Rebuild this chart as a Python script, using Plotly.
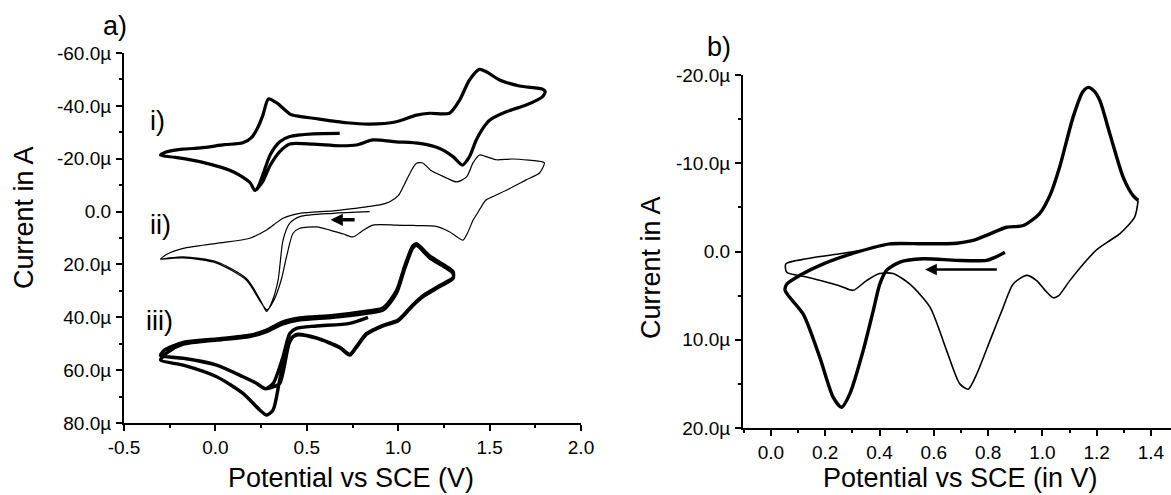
import plotly.graph_objects as go

# ---------------- data (potential in V, current in µA) ----------------
# panel a, curve i)
i_x = [0.68, 0.535, 0.407, 0.352, 0.30, 0.26, 0.235, 0.216, 0.19, 0.10, -0.08, -0.22, -0.30,
       -0.27, -0.18, -0.08, 0.05, 0.15, 0.20, 0.23, 0.26, 0.29, 0.336, 0.41, 0.444, 0.535,
       0.717, 0.844, 0.99, 1.10, 1.172, 1.28, 1.336, 1.39, 1.445, 1.482, 1.555, 1.664, 1.79,
       1.804, 1.79, 1.70, 1.591, 1.50, 1.463, 1.427, 1.39, 1.351, 1.30, 1.227, 1.117, 0.99,
       0.862, 0.772, 0.68, 0.535, 0.407, 0.352, 0.30, 0.26, 0.225]
i_y = [-29.6, -29.4, -28.4, -26.4, -21.5, -14.0, -9.5, -8.0, -10.9, -15.0, -18.8, -20.5, -21.3,
       -22.5, -23.6, -24.1, -25.3, -26.0, -28.2, -31.5, -36.5, -42.6, -41.1, -36.8, -36.2, -35.3,
       -33.6, -33.1, -34.0, -36.5, -37.2, -37.2, -42.2, -49.8, -53.8, -52.9, -49.8, -47.5, -46.3,
       -45.4, -43.5, -40.3, -37.8, -34.6, -31.5, -27.1, -20.8, -17.6, -20.8, -23.9, -25.8, -26.4,
       -27.1, -25.2, -24.9, -25.5, -25.6, -22.7, -17.5, -11.5, -8.3]

# panel a, curve ii)
ii_x = [0.844, 0.644, 0.462, 0.407, 0.37, 0.343, 0.31, 0.28, 0.25, 0.17, 0.0066, -0.176, -0.26,
        -0.30, -0.27, -0.176, 0.0066, 0.188, 0.28, 0.37, 0.462, 0.644, 0.826, 0.90, 0.954, 1.0,
        1.046, 1.08, 1.10, 1.134, 1.18, 1.265, 1.32, 1.374, 1.41, 1.445, 1.48, 1.538, 1.626,
        1.79, 1.80, 1.773, 1.70, 1.626, 1.516, 1.48, 1.43, 1.41, 1.38, 1.354, 1.32, 1.28, 1.2,
        1.1, 0.99, 0.862, 0.80, 0.753, 0.70, 0.626, 0.553, 0.462, 0.425, 0.389, 0.36, 0.32,
        0.283, 0.25, 0.17, 0.0066, -0.176, -0.29]
ii_y = [0.05, 0.66, 1.9, 4.4, 10.8, 25.9, 34.0, 37.8, 34.0, 25.3, 19.0, 17.1, 17.6,
        18.0, 16.3, 13.9, 12.0, 10.1, 7.0, 2.5, 0.66, -0.3, -1.8, -2.5, -3.7, -6.0,
        -12.0, -16.5, -18.3, -18.4, -15.5, -12.7, -11.2, -13.1, -18.5, -21.4, -20.8, -19.6, -19.9,
        -18.8, -18.4, -14.6, -12.0, -9.3, -5.6, -4.4, 1.0, 3.2, 8.0, 10.8, 9.5, 7.6, 5.5,
        5.3, 5.1, 5.1, 7.5, 9.6, 8.5, 7.0, 5.8, 6.3, 8.2, 17.1, 25.9, 33.5,
        37.2, 34.5, 26.0, 19.5, 17.5, 18.0]

# panel a, curve iii)
iii_x = [0.835, 0.735, 0.553, 0.444, 0.407, 0.37, 0.316, 0.275, 0.22, 0.151, 0.0066, -0.176,
         -0.30, -0.28, -0.176, 0.0066, 0.188, 0.28, 0.37, 0.462, 0.644, 0.826, 0.917, 0.99,
         1.036, 1.08, 1.10, 1.172, 1.25, 1.30, 1.30, 1.227, 1.136, 1.081, 1.0, 0.917, 0.826,
         0.77, 0.735, 0.68, 0.553, 0.444, 0.407, 0.352, 0.316, 0.28, 0.243, 0.151, 0.0066,
         -0.176, -0.30, -0.26, -0.176, 0.0066, 0.188, 0.28, 0.37, 0.462, 0.644, 0.826, 0.917,
         0.99, 1.036, 1.08, 1.10, 1.172, 1.25, 1.30, 1.30, 1.227, 1.136, 1.081, 1.0, 0.917,
         0.826, 0.77, 0.735, 0.68, 0.553, 0.444, 0.407, 0.352, 0.31, 0.27, 0.22, 0.151, 0.0066,
         -0.176, -0.29]
iii_y = [40.0, 42.3, 43.3, 44.2, 46.1, 54.9, 65.0, 67.0, 64.8, 62.5, 58.1, 55.5,
         54.5, 52.5, 49.5, 48.2, 46.8, 44.8, 41.7, 40.2, 39.3, 37.7, 36.5, 30.0,
         20.5, 13.0, 12.2, 16.8, 20.2, 22.7, 25.3, 28.4, 32.2, 35.5, 41.3, 43.3, 46.5,
         51.5, 54.3, 51.5, 47.9, 46.7, 48.6, 63.7, 75.0, 77.0, 75.1, 68.8, 62.5,
         58.1, 56.2, 53.2, 50.2, 48.6, 47.3, 45.4, 42.5, 41.0, 40.0, 38.5, 37.3,
         31.0, 21.5, 13.8, 12.8, 17.5, 20.8, 23.4, 25.0, 28.0, 31.8, 35.2, 41.0, 43.0,
         46.2, 51.2, 54.0, 51.3, 47.8, 46.5, 49.2, 65.0, 66.5, 67.0, 64.8, 62.5, 58.1,
         55.5, 54.8]

# panel b, first sweep (heavy line)
b1_x = [0.862, 0.83, 0.794, 0.684, 0.561, 0.475, 0.426, 0.401, 0.377, 0.34, 0.291, 0.26, 0.229,
        0.18, 0.119, 0.064, 0.052, 0.058, 0.107, 0.193, 0.316, 0.438, 0.561, 0.684, 0.745,
        0.807, 0.868, 0.93, 0.99, 1.03, 1.064, 1.113, 1.149, 1.169, 1.19, 1.212, 1.249, 1.298,
        1.335, 1.353]
b1_y = [0.08, 0.6, 1.0, 1.0, 0.83, 1.2, 2.15, 3.7, 6.7, 11.2, 16.1, 17.65, 16.5,
        12.0, 7.1, 5.0, 4.4, 3.7, 2.7, 1.4, 0.08, -0.87, -0.87, -0.94, -1.25,
        -2.0, -2.75, -2.95, -4.3, -6.5, -9.6, -15.2, -18.1, -18.6, -18.2, -17.1, -13.3, -8.4,
        -6.3, -5.8]

# panel b, return sweep (light line)
b2_x = [1.353, 1.34, 1.285, 1.249, 1.2, 1.163, 1.101, 1.06, 1.04, 1.01, 0.979, 0.942, 0.892,
        0.856, 0.807, 0.758, 0.727, 0.696, 0.647, 0.586, 0.512, 0.45, 0.40, 0.352, 0.303,
        0.254, 0.131, 0.058, 0.055, 0.131, 0.254, 0.33]
b2_y = [-5.8, -3.9, -2.0, -1.25, -0.2, 1.0, 3.3, 5.0, 5.25, 4.4, 3.3, 2.7, 3.7,
        6.3, 10.1, 13.9, 15.6, 15.0, 11.2, 6.3, 3.7, 2.5, 2.5, 3.3, 4.4,
        3.9, 2.9, 2.35, 1.4, 0.83, 0.26, -0.1]

# tick labels
a_yticks = [-60, -40, -20, 0, 20, 40, 60, 80]
a_yticktext = ["-60.0µ", "-40.0µ", "-20.0µ", "0.0", "20.0µ", "40.0µ", "60.0µ", "80.0µ"]
a_xticks = [-0.5, 0.0, 0.5, 1.0, 1.5, 2.0]
a_xticktext = ["-0.5", "0.0", "0.5", "1.0", "1.5", "2.0"]
b_yticks = [-20, -10, 0, 10, 20]
b_yticktext = ["-20.0µ", "-10.0µ", "0.0", "10.0µ", "20.0µ"]
b_xticks = [0.0, 0.2, 0.4, 0.6, 0.8, 1.0, 1.2, 1.4]
b_xticktext = ["0.0", "0.2", "0.4", "0.6", "0.8", "1.0", "1.2", "1.4"]

# ---------------- figure ----------------
W, H = 1171, 495
FONT = "Liberation Sans, Arial, sans-serif"


def px(x):
    return x / W


def py(y):
    return 1 - y / H


fig = go.Figure()
line_kw = dict(shape="spline", smoothing=0.7, color="black")
fig.add_trace(go.Scatter(x=i_x, y=i_y, mode="lines", line=dict(width=3.2, **line_kw),
                         xaxis="x", yaxis="y"))
fig.add_trace(go.Scatter(x=ii_x, y=ii_y, mode="lines", line=dict(width=1.2, **line_kw),
                         xaxis="x", yaxis="y"))
fig.add_trace(go.Scatter(x=iii_x, y=iii_y, mode="lines", line=dict(width=3.4, **line_kw),
                         xaxis="x", yaxis="y"))
fig.add_trace(go.Scatter(x=b1_x, y=b1_y, mode="lines", line=dict(width=3.4, **line_kw),
                         xaxis="x2", yaxis="y2"))
fig.add_trace(go.Scatter(x=b2_x, y=b2_y, mode="lines", line=dict(width=1.6, **line_kw),
                         xaxis="x2", yaxis="y2"))

axis_common = dict(
    showline=True, linecolor="black", linewidth=2, ticks="outside", ticklen=6,
    tickwidth=1.5, tickcolor="black", showgrid=False, zeroline=False, mirror=False,
    automargin=False,
    tickfont=dict(family=FONT, size=19, color="black"), tickmode="array",
)
minor_common = dict(ticks="outside", ticklen=3, tickwidth=1.5, tickcolor="black",
                    tickmode="linear")

fig.update_layout(
    width=W, height=H,
    margin=dict(l=0, r=0, t=0, b=0, autoexpand=False),
    paper_bgcolor="white", plot_bgcolor="white",
    showlegend=False,
    xaxis=dict(domain=[px(124), px(581)], range=[-0.5, 2.0], anchor="y",
               tickvals=a_xticks, ticktext=a_xticktext, ticklabelstandoff=0,
               minor=dict(tick0=-0.25, dtick=0.5, **minor_common),
               **axis_common),
    yaxis=dict(domain=[py(423), py(53)], range=[80, -60], anchor="x",
               tickvals=a_yticks, ticktext=a_yticktext, ticklabelstandoff=1,
               minor=dict(tick0=-50, dtick=20, **minor_common),
               **axis_common),
    xaxis2=dict(domain=[px(743), 1.0], range=[-0.103, 1.474], anchor="y2",
                tickvals=b_xticks, ticktext=b_xticktext, ticklabelstandoff=0,
                minor=dict(tick0=0.1, dtick=0.2, **minor_common),
                **axis_common),
    yaxis2=dict(domain=[py(428), py(75)], range=[20, -20], anchor="x2",
                tickvals=b_yticks, ticktext=b_yticktext, ticklabelstandoff=1,
                minor=dict(tick0=-15, dtick=10, **minor_common),
                **axis_common),
)

text_font = dict(family=FONT, size=27, color="black")
label_font = dict(family=FONT, size=27, color="black")
annotations = [
    dict(text="a)", x=px(115), y=py(26), font=label_font),
    dict(text="b)", x=px(719), y=py(47), font=label_font),
    dict(text="Current in A", x=px(24), y=py(218), textangle=-90, font=text_font),
    dict(text="Current in A", x=px(651), y=py(268), textangle=-90, font=text_font),
    dict(text="Potential vs SCE (V)", x=px(351), y=0.0, yanchor="bottom", font=text_font),
    dict(text="Potential vs SCE (in V)", x=px(960), y=0.0, yanchor="bottom", font=text_font),
    dict(text="i)", x=px(157), y=py(121), font=label_font),
    dict(text="ii)", x=px(160), y=py(225), font=label_font),
    dict(text="iii)", x=px(159), y=py(321), font=label_font),
]
for a in annotations:
    a.setdefault("yanchor", "middle")
    a.update(xref="paper", yref="paper", showarrow=False, xanchor="center")
    fig.add_annotation(**a)

# scan-direction arrows
fig.add_annotation(x=0.63, y=3.1, ax=0.77, ay=3.1, xref="x", yref="y", axref="x", ayref="y",
                   showarrow=True, arrowhead=2, arrowsize=0.7, arrowwidth=3.5,
                   arrowcolor="black", text="")
fig.add_annotation(x=0.568, y=2.04, ax=0.838, ay=2.04, xref="x2", yref="y2", axref="x2",
                   ayref="y2", showarrow=True, arrowhead=2, arrowsize=0.9, arrowwidth=2.6,
                   arrowcolor="black", text="")

fig.write_html("out.html")
